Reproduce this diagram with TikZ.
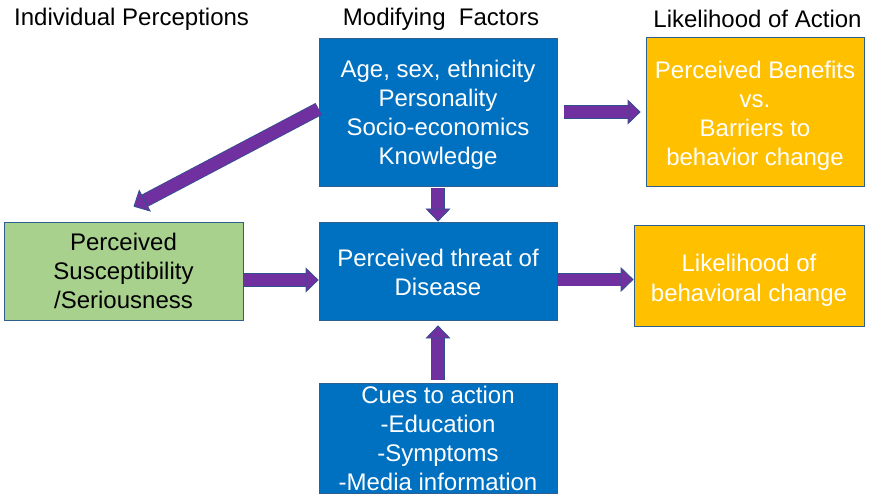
\documentclass[tikz,border=0pt]{standalone}
\usepackage{fontspec}
\setmainfont{Liberation Sans}
\usepackage{tikz}
\usetikzlibrary{arrows.meta,positioning}

\definecolor{boxblue}{HTML}{0070C0}
\definecolor{boxorange}{HTML}{FFC000}
\definecolor{boxgreen}{HTML}{A9D18E}
\definecolor{boxedge}{HTML}{2F5F8F}
\definecolor{arrowfill}{HTML}{7030A0}
\definecolor{arrowedge}{HTML}{2F528F}

\begin{document}
\begin{tikzpicture}[x=1pt,y=-1pt,node distance=159pt,font=\fontsize{24}{29}\selectfont]
  \tikzstyle{box}=[draw=boxedge,line width=0.8pt,fill=boxblue,text=white,align=center,inner sep=0pt,minimum width=238pt,text depth=0pt]
  \tikzstyle{head}=[inner sep=0pt]
  \tikzstyle{fat}=[draw=arrowfill,line width=12pt,
    -{Triangle[width=25pt,length=13pt,fill=arrowfill,color=arrowedge,line width=0.8pt]},
    preaction={draw=arrowedge,line width=13.6pt,arrows=-,shorten >=12pt}]
  \useasboundingbox (0,0) rectangle (872,494);
  % column headings
  \node[head,anchor=west] (hperc) at (14,19) {Individual Perceptions};
  \node[head] (hmod) at (441,19) {Modifying\ \ Factors};
  \node[head] (hlike) at (757.5,19) {Likelihood of Action};
  % boxes
  \node[box,minimum height=148pt,text height=105pt] (factors) at (438,112) {Age, sex, ethnicity\\Personality\\Socio-economics\\Knowledge};
  \node[box,fill=boxorange,minimum width=218pt,minimum height=149pt,text height=107pt] (benefits) [right of=factors,node distance=317pt] {Perceived Benefits\\vs.\\Barriers to\\behavior change};
  \node[box,minimum height=98pt,text height=48pt] (threat) [below of=factors] {Perceived threat of\\Disease};
  \node[box,minimum height=110pt,text height=104pt] (cues) [below of=threat,node distance=167pt] {Cues to action\\-Education\\-Symptoms\\-Media information};
  \node[box,fill=boxgreen,text=black,minimum width=239pt,minimum height=98pt,text height=75pt] (susc) [left of=threat,node distance=314.5pt] {Perceived\\Susceptibility\\/Seriousness};
  \node[box,fill=boxorange,minimum width=230pt,minimum height=101pt,text height=51pt] (likely) at (749,275.5) {Likelihood of\\behavioral change};
  % block arrows
  \path ([xshift=7pt]factors.east) edge[fat] ([xshift=-5pt]benefits.west)
        ([yshift=3pt]factors.west) edge[fat] ([xshift=10pt,yshift=15pt]susc.north)
        ([yshift=-2pt]factors.south) edge[fat] (threat.north)
        ([yshift=-9pt]susc.east) edge[fat] ([yshift=-9pt]threat.west)
        ([yshift=-8.5pt]threat.east) edge[fat] ([yshift=-4pt]likely.west)
        ([yshift=3pt]cues.north) edge[fat] ([yshift=-5pt]threat.south);
\end{tikzpicture}
\end{document}
